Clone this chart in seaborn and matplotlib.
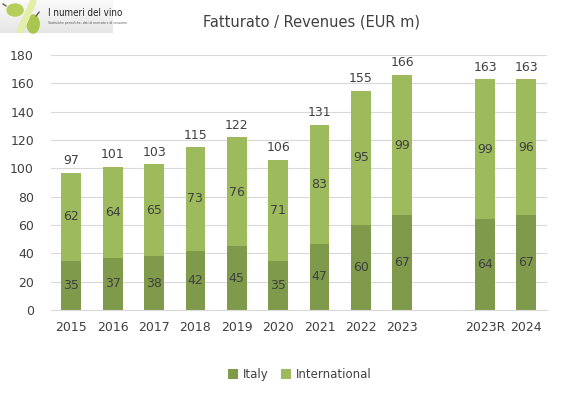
import numpy as np
import pandas as pd
import matplotlib
matplotlib.use('Agg')
import matplotlib.pyplot as plt
import seaborn as sns
from matplotlib.patches import Ellipse, Rectangle

years = ['2015', '2016', '2017', '2018', '2019', '2020', '2021', '2022', '2023', '2023R', '2024']
italy = [35, 37, 38, 42, 45, 35, 47, 60, 67, 64, 67]
international = [62, 64, 65, 73, 76, 71, 83, 95, 99, 99, 96]
totals = [97, 101, 103, 115, 122, 106, 131, 155, 166, 163, 163]

# slot vuoto tra 2023 e 2023R
order = years[:9] + [' '] + years[9:]

c_italy = '#7F9A4B'
c_int = '#9DBB5D'
txt = '#404040'

df = pd.DataFrame({'anno': years, 'Italy': italy, 'International': international, 'Totale': totals})

sns.set_style('white')
plt.rcParams['font.family'] = ['DejaVu Sans']

fig = plt.figure(figsize=(5.82, 3.94), dpi=100)
ax = fig.add_axes([0.087, 0.213, 0.853, 0.647])

sns.barplot(data=df, x='anno', y='Totale', order=order, color=c_int, width=0.48,
            saturation=1, linewidth=0, ax=ax, label='International')
sns.barplot(data=df, x='anno', y='Italy', order=order, color=c_italy, width=0.48,
            saturation=1, linewidth=0, ax=ax, label='Italy')

for i, yr in enumerate(order):
    if yr.strip() == '':
        continue
    k = years.index(yr)
    ax.text(i, italy[k] / 2, str(italy[k]), ha='center', va='center', fontsize=9, color=txt)
    ax.text(i, italy[k] + international[k] / 2, str(international[k]), ha='center', va='center',
            fontsize=9, color=txt)
    ax.text(i, totals[k] + 4, str(totals[k]), ha='center', va='bottom', fontsize=9, color=txt)

ax.set_ylim(0, 180)
ax.set_yticks(range(0, 181, 20))
ax.set_xlim(-0.5, len(order) - 0.5)
ax.yaxis.grid(True, color='#D9D9D9', linewidth=0.8)
ax.set_axisbelow(True)
for s in ['top', 'right', 'left']:
    ax.spines[s].set_visible(False)
ax.spines['bottom'].set_color('#D9D9D9')
ax.tick_params(axis='both', length=0, colors=txt, labelsize=9)
ax.tick_params(axis='x', pad=8)
ax.tick_params(axis='y', pad=12)
ax.set_xlabel('')
ax.set_ylabel('')

handles, labels = ax.get_legend_handles_labels()
hl = dict(zip(labels, handles))
fig.legend([hl['Italy'], hl['International']], ['Italy', 'International'], loc='center',
           bbox_to_anchor=(0.515, 0.05), ncol=2, frameon=False, fontsize=8.5,
           labelcolor=txt, handlelength=0.9, handleheight=0.9, columnspacing=1.0, handletextpad=0.4)
if ax.get_legend() is not None:
    ax.get_legend().remove()

fig.text(0.535, 0.945, 'Fatturato / Revenues (EUR m)', ha='center', va='center', fontsize=10.5, color=txt)

# logo
lg = fig.add_axes([0.0, 0.916, 0.195, 0.084])
lg.set_xlim(0, 113)
lg.set_ylim(0, 33)
lg.axis('off')
for j in range(20):
    lg.add_patch(Rectangle((0, j * 33 / 20), 113, 33 / 20 + 0.1, color=str(0.90 + 0.08 * j / 20), lw=0))
lg.plot([20, 33], [2, 31], color='#E3EEA8', lw=5, solid_capstyle='round')
lg.add_patch(Ellipse((15, 23), 16, 12, color='#B5CF5A', clip_on=False))
lg.add_patch(Ellipse((33, 9), 12, 18, color='#A9C64E', clip_on=False))
lg.plot([6, 3], [27, 29], color='#6B5A3A', lw=1)
lg.plot([36, 39], [17, 21], color='#6B5A3A', lw=1)
lg.text(48, 20, 'I numeri del vino', fontsize=7, color='#222222', va='center',
        family='DejaVu Sans', stretch='condensed')
lg.text(48, 10, 'Statistiche periodiche, dati di mercato e di consumo', fontsize=2.2, color='#555555', va='center')

fig.savefig('out.png', dpi=100)
